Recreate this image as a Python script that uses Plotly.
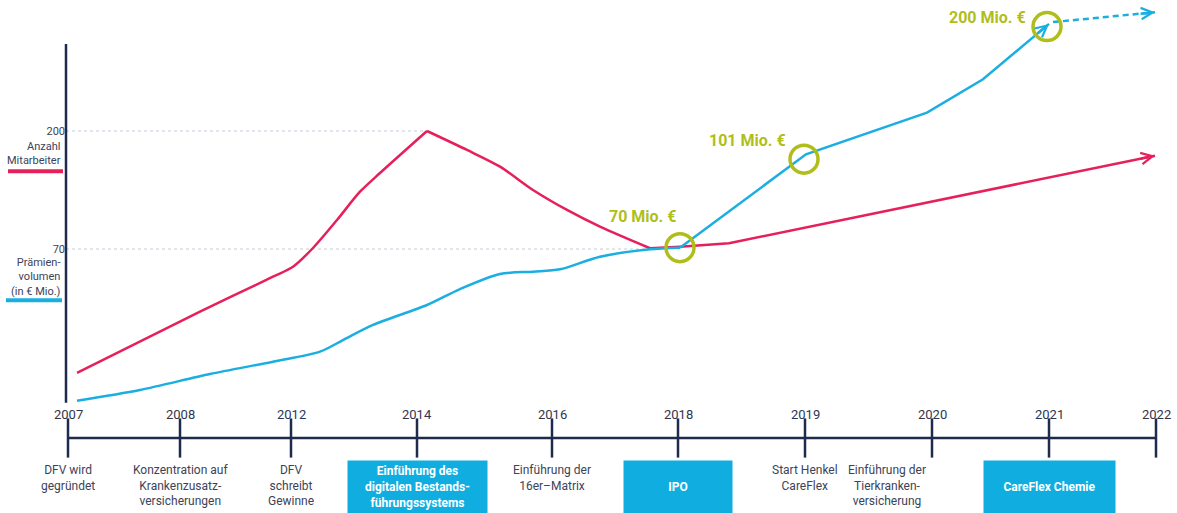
import math
import plotly.graph_objects as go

# ---------------- data ----------------
# Timeline milestones (position on the timeline scale, 2007 = 0)
years = ["2007", "2008", "2012", "2014", "2016", "2018", "2019", "2020", "2021", "2022"]
year_pos = [0.00, 1.12, 2.23, 3.49, 4.84, 6.10, 7.37, 8.64, 9.81, 10.88]
events = [
    "DFV wird<br>gegründet",
    "Konzentration auf<br>Krankenzusatz-<br>versicherungen",
    "DFV<br>schreibt<br>Gewinne",
    "Einführung des<br>digitalen Bestands-<br>führungssystems",
    "Einführung der<br>16er–Matrix",
    "IPO",
    "Start Henkel<br>CareFlex",
    "Einführung der<br>Tierkranken-<br>versicherung",
    "CareFlex Chemie",
    "",
]
highlighted = [False, False, False, True, False, True, False, False, True, False]

# Anzahl Mitarbeiter (red)
staff_x = [0.09, 1.32, 2.05, 2.25, 2.45, 2.69, 2.92, 3.12, 3.59, 3.99, 4.32, 4.65,
           4.99, 5.32, 5.82, 6.12, 6.61, 10.87]
staff_y = [-66.6, 0.9, 39.5, 50.5, 71.1, 101.9, 133.1, 153.7, 200, 179.1, 160.7, 135,
           113, 94.6, 70.8, 72.5, 76.3, 172.8]

# Prämienvolumen (blue)
prem_x = [0.09, 0.72, 1.42, 2.05, 2.52, 2.75, 3.05, 3.59, 3.92, 4.32, 4.65, 4.92,
          5.32, 5.82, 6.12, 7.38, 8.59, 9.15, 9.81]
prem_y = [-97.1, -85.3, -67.7, -54.2, -43.1, -30.3, -13.7, 8.3, 25.9, 42.5, 45, 47.6,
          61.5, 69.7, 71.5, 174.3, 220.2, 257, 318]
# projection (dashed)
proj_x = [9.85, 10.87]
proj_y = [320, 330.8]

# highlighted premium values
hl_x = [6.12, 7.36, 9.79]
hl_y = [71.5, 169, 315]
hl_text = ["70 Mio. €", "101 Mio. €", "200 Mio. €"]

# y-axis reference values
ref_vals = [200, 70]
ref_ticks = ["200", "70"]

# ---------------- styles ----------------
RED = "#E5205A"
BLUE = "#1AAEE1"
DARK = "#1F2B4C"
TEXT = "#3C4359"
OLIVE = "#AFBE1B"
BOX = "#10AEE0"
FONT = "Roboto"

W, H = 1177, 513
AX_PX = 66
PX_PER_X = 100.0
x_range = [-0.02, -0.02 + (W - AX_PX) / PX_PER_X]
y_range = [-220.85, 344.32]
PX_PER_Y = H / (y_range[1] - y_range[0])
y2_range = [-75, 438]

hl_xshift = [-2, -16, -19]
hl_yshift = [31, 19, 9]
event_xshift = [0, 0, 0, 0, 0, 0, 0, -45, 0, 0]
box_w = {3: 139, 5: 108, 8: 131}

peak_i = staff_y.index(max(staff_y))
join_i = 14  # where smooth growth turns into the straight segments

fig = go.Figure()


def seg(xs, ys, a, b, color, shape):
    fig.add_trace(go.Scatter(x=xs[a:b + 1], y=ys[a:b + 1], mode="lines",
                             line=dict(color=color, width=2.5, shape=shape,
                                       smoothing=0.8 if shape == "spline" else None),
                             hoverinfo="skip"))


# Red line
n_r = len(staff_x) - 1
seg(staff_x, staff_y, 0, peak_i, RED, "spline")
seg(staff_x, staff_y, peak_i, join_i, RED, "spline")
seg(staff_x, staff_y, join_i, n_r, RED, "linear")
# Blue line
n_b = len(prem_x) - 1
seg(prem_x, prem_y, 0, join_i, BLUE, "spline")
seg(prem_x, prem_y, join_i, n_b, BLUE, "linear")
fig.add_trace(go.Scatter(x=proj_x, y=proj_y, mode="lines",
                         line=dict(color=BLUE, width=2.5, dash="6px,4px"), hoverinfo="skip"))
# Highlight circles
fig.add_trace(go.Scatter(x=hl_x, y=hl_y, mode="markers",
                         marker=dict(symbol="circle-open", size=28, color=OLIVE,
                                     line=dict(width=3.5, color=OLIVE)),
                         cliponaxis=False, hoverinfo="skip"))
# Timeline
fig.add_trace(go.Scatter(x=year_pos, y=[0] * len(year_pos), yaxis="y2", mode="lines+markers",
                         line=dict(color=DARK, width=2.5),
                         marker=dict(symbol="line-ns", size=28, color=DARK,
                                     line=dict(width=2.5, color=DARK)),
                         cliponaxis=False, hoverinfo="skip"))

shapes = []
# left axis line
shapes.append(dict(type="line", xref="x domain", yref="paper", x0=0, x1=0,
                   y0=1 - 402.7 / H, y1=1 - 44 / H, line=dict(color=DARK, width=2.5)))
# dotted reference lines to the points
shapes.append(dict(type="line", xref="x", yref="y", x0=x_range[0], x1=staff_x[peak_i],
                   y0=ref_vals[0], y1=ref_vals[0], layer="below",
                   line=dict(color="#C6CDDA", width=1, dash="dot")))
shapes.append(dict(type="line", xref="x", yref="y", x0=x_range[0], x1=prem_x[13],
                   y0=ref_vals[1], y1=ref_vals[1], layer="below",
                   line=dict(color="#C6CDDA", width=1, dash="dot")))
# legend bars
shapes.append(dict(type="line", xref="paper", yref="paper", x0=8 / W, x1=63 / W,
                   y0=1 - 171.3 / H, y1=1 - 171.3 / H, line=dict(color=RED, width=4)))
shapes.append(dict(type="line", xref="paper", yref="paper", x0=6 / W, x1=62 / W,
                   y0=1 - 300.3 / H, y1=1 - 300.3 / H, line=dict(color=BLUE, width=4)))

ann = []
# legend texts
ann.append(dict(xref="paper", yref="paper", x=63 / W, y=1 - 153.7 / H, xanchor="right",
                yanchor="middle", align="right", showarrow=False,
                text="Anzahl<br>Mitarbeiter", font=dict(family=FONT, size=11, color=TEXT)))
ann.append(dict(xref="paper", yref="paper", x=63 / W, y=1 - 277 / H, xanchor="right",
                yanchor="middle", align="right", showarrow=False,
                text="Prämien-<br>volumen<br>(in € Mio.)", font=dict(family=FONT, size=11, color=TEXT)))


# arrowheads at the end of a series (tail placed a fixed pixel length back along the line)
def arrow(xs, ys, color, tail_px=16):
    x1, y1 = xs[-1], ys[-1]
    x0, y0 = xs[-2], ys[-2]
    dxp = (x1 - x0) * PX_PER_X
    dyp = (y1 - y0) * PX_PER_Y
    n = math.hypot(dxp, dyp)
    ax = x1 - tail_px * dxp / n / PX_PER_X
    ay = y1 - tail_px * dyp / n / PX_PER_Y
    return dict(x=x1, y=y1, xref="x", yref="y", axref="x", ayref="y",
                ax=ax, ay=ay, text="",
                showarrow=True, arrowhead=5, arrowsize=0.9, arrowwidth=2.5,
                arrowcolor=color, standoff=0)


ann.append(arrow(staff_x, staff_y, RED))
ann.append(arrow(prem_x, prem_y, BLUE))
ann.append(arrow(proj_x, proj_y, BLUE))

# highlight labels
for x, y, t, dx, dy in zip(hl_x, hl_y, hl_text, hl_xshift, hl_yshift):
    ann.append(dict(x=x, y=y, xref="x", yref="y", text="<b>%s</b>" % t, showarrow=False,
                    xanchor="right", yanchor="middle", xshift=dx, yshift=dy,
                    font=dict(family=FONT, size=16, color=OLIVE)))

# year labels and events
for i, (yr, pos, ev) in enumerate(zip(years, year_pos, events)):
    ann.append(dict(x=pos, y=24, xref="x", yref="y2", text=yr, showarrow=False,
                    xanchor="center", yanchor="middle",
                    font=dict(family=FONT, size=13, color="#2D3550")))
    if not ev:
        continue
    if highlighted[i]:
        ann.append(dict(x=pos, y=-22, xref="x", yref="y2", text="<b>%s</b>" % ev,
                        showarrow=False, xanchor="center", yanchor="top",
                        width=box_w[i], height=52, bgcolor=BOX, borderpad=0,
                        align="center", valign="middle",
                        font=dict(family=FONT, size=12, color="white")))
    else:
        ann.append(dict(x=pos, y=-23, xref="x", yref="y2", text=ev, showarrow=False,
                        xanchor="center", yanchor="top", align="center",
                        xshift=event_xshift[i],
                        font=dict(family=FONT, size=12, color=TEXT)))

fig.update_layout(
    width=W, height=H,
    margin=dict(l=0, r=0, t=0, b=0),
    paper_bgcolor="white", plot_bgcolor="white",
    showlegend=False,
    hovermode=False,
    font=dict(family=FONT, color=TEXT),
    xaxis=dict(domain=[AX_PX / W, 1], range=x_range, visible=False, automargin=False),
    yaxis=dict(range=y_range, tickvals=ref_vals, ticktext=ref_ticks, ticks="",
               showgrid=False, zeroline=False, showline=False, automargin=False,
               tickfont=dict(family=FONT, size=11, color=TEXT)),
    yaxis2=dict(range=y2_range, overlaying="y", visible=False, automargin=False),
    shapes=shapes,
    annotations=ann,
)

fig.write_html("out.html", config={"displayModeBar": False},
               post_script="document.body.style.margin='0px';document.body.style.overflow='hidden';")
